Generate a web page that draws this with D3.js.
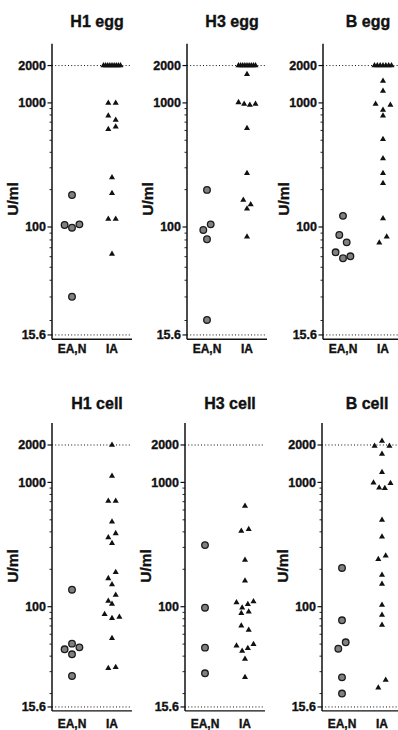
<!DOCTYPE html>
<html><head><meta charset="utf-8">
<script src="https://cdn.jsdelivr.net/npm/d3@7"></script>
<style>
body{margin:0;background:#fff}
svg{display:block}
text{font-family:"Liberation Sans",Arial,Helvetica,sans-serif;font-weight:bold;fill:#111;stroke:#111;stroke-width:0.35px}
</style>
</head><body>
<svg id="c" width="398" height="730"></svg>
<script>
// ---------- data ----------
const panelTitles = ["H1 egg", "H3 egg", "B egg", "H1 cell", "H3 cell", "B cell"];
const groups = ["EA,N", "IA"];
const yTickValues = [15.6, 100, 1000, 2000];
const yTickLabels = ["15.6", "100", "1000", "2000"];
const minorTickValues = [20, 30, 40, 50, 60, 70, 80, 90, 200, 300, 400, 500, 600, 700, 800, 900];
const refLineValues = [2000, 15.6];
const yLabel = "U/ml";

const h1EggEAN = [181, 103.8, 98.8, 105, 30.1];
const h1EggIA = [2000, 2000, 2000, 2000, 2000, 2000, 2000, 2000, 2000, 1000, 1000, 788, 728, 613, 643, 250, 187, 116, 116, 62.8];
const h3EggEAN = [199, 95, 105, 81, 20.2];
const h3EggIA = [2000, 2000, 2000, 2000, 2000, 2000, 2000, 2000, 2000, 1700, 1010, 980, 960, 980, 624, 271, 165, 152, 140, 84.6];
const bEggEAN = [123, 87.1, 76.8, 64.7, 58.4, 60.4];
const bEggIA = [2000, 2000, 2000, 2000, 2000, 2000, 2000, 1501, 1247, 980, 877, 962, 788, 509, 357, 271, 225, 117, 76.3, 84.6];
const h1CellEAN = [137, 45.4, 50.4, 47.1, 41.4, 27.7];
const h1CellIA = [2000, 1126, 708, 708, 483, 361, 389, 324, 169, 189, 151, 111, 124, 105, 86.9, 80.7, 82.6, 55.7, 31.9, 32.5];
const h3CellEAN = [313, 98.2, 46.8, 29.1];
const h3CellIA = [646, 406, 420, 238, 162, 108, 98, 104.5, 110, 88.5, 91, 70.3, 65, 48.6, 44, 46.3, 49.9, 37.9, 27.0];
const bCellEAN = [205, 77.7, 45.9, 51.7, 27.0, 20.0];
const bCellIA = [1963, 2154, 1963, 1693, 1206, 995, 906, 896, 984, 498, 366, 241, 257, 180, 152, 103, 85.8, 71.3, 22.3, 25.7];

const panelData = [
  [h1EggEAN, h1EggIA], [h3EggEAN, h3EggIA], [bEggEAN, bEggIA],
  [h1CellEAN, h1CellIA], [h3CellEAN, h3CellIA], [bCellEAN, bCellIA]
];

// ---------- layout ----------
const svg = d3.select("#c");
const axisX = [52, 187, 323, 52, 185, 322];
const panelW = 80;
const rows = [
  {y: d3.scaleLog().domain([14.5, 100, 3000]).range([339.2, 227, 43.7]), titleY: 27, labelY: 199, catY: 353},
  {y: d3.scaleLog().domain([14.5, 100, 3000]).range([710.9, 606.7, 423.1]), titleY: 409, labelY: 566, catY: 728}
];
const rowTol = 8, spacing = 7.4, maxSpread = 17;

function dodge(values, y) {
  const items = values.map((v, i) => ({v, i, y: y(v), dx: 0}));
  const sorted = items.slice().sort((a, b) => a.y - b.y || a.i - b.i);
  const rs = [];
  let cur = null;
  sorted.forEach(it => {
    if (!cur || it.y - cur[0].y > rowTol) { cur = [it]; rs.push(cur); }
    else cur.push(it);
  });
  rs.forEach(r => {
    r.sort((a, b) => a.i - b.i);
    const n = r.length;
    const sp = n > 1 ? Math.min(spacing, maxSpread / (n - 1)) : 0;
    r.forEach((it, k) => it.dx = (k - (n - 1) / 2) * sp);
  });
  return items;
}

panelData.forEach((pd, p) => {
  const row = rows[Math.floor(p / 3)];
  const y = row.y;
  const x0 = axisX[p];
  const x = d3.scalePoint().domain(groups).range([x0, x0 + panelW]).padding(0.5);
  const g = svg.append("g");
  const [yMin, yMax] = [y.domain()[0], y.domain()[y.domain().length - 1]];

  // reference dotted lines
  g.selectAll("line.ref").data(refLineValues).join("line")
    .attr("x1", x0).attr("x2", x0 + panelW)
    .attr("y1", d => y(d)).attr("y2", d => y(d))
    .attr("stroke", "#111").attr("stroke-width", 1)
    .attr("stroke-dasharray", "1,2.2");

  // axes
  g.append("line").attr("x1", x0).attr("x2", x0).attr("y1", y(yMin)).attr("y2", y(yMax))
    .attr("stroke", "#111").attr("stroke-width", 1.5);
  g.append("line").attr("x1", x0).attr("x2", x0 + panelW).attr("y1", y(yMin)).attr("y2", y(yMin))
    .attr("stroke", "#111").attr("stroke-width", 1.4);
  g.selectAll("line.minor").data(minorTickValues).join("line")
    .attr("x1", x0 - 2.5).attr("x2", x0).attr("y1", d => y(d)).attr("y2", d => y(d))
    .attr("stroke", "#111").attr("stroke-width", 0.9);
  g.selectAll("line.major").data(yTickValues).join("line")
    .attr("x1", x0 - 4.5).attr("x2", x0).attr("y1", d => y(d)).attr("y2", d => y(d))
    .attr("stroke", "#111").attr("stroke-width", 1.2);
  g.selectAll("text.tick").data(yTickValues).join("text")
    .attr("x", x0 - 6).attr("y", d => y(d)).attr("dy", "0.35em")
    .attr("text-anchor", "end").attr("font-size", 12.5)
    .text((d, i) => yTickLabels[i]);

  // category labels
  g.selectAll("text.cat").data(groups).join("text")
    .attr("x", d => x(d)).attr("y", row.catY)
    .attr("text-anchor", "middle").attr("font-size", 12)
    .text(d => d);

  // title
  g.append("text").attr("x", x0 + 45).attr("y", row.titleY)
    .attr("text-anchor", "middle").attr("font-size", 16).text(panelTitles[p]);

  // y label
  g.append("text").attr("transform", `translate(${x0 - 34},${row.labelY}) rotate(-90)`)
    .attr("text-anchor", "middle").attr("font-size", 15.5).text(yLabel);

  // points
  const ean = dodge(pd[0], y);
  g.selectAll("circle.pt").data(ean).join("circle")
    .attr("cx", d => x(groups[0]) + d.dx).attr("cy", d => d.y).attr("r", 3.3)
    .attr("fill", "#808080").attr("stroke", "#1a1a1a").attr("stroke-width", 1.3);
  const ia = dodge(pd[1], y);
  const tri = d3.symbol(d3.symbolTriangle).size(16);
  g.selectAll("path.pt").data(ia).join("path")
    .attr("transform", d => `translate(${x(groups[1]) + d.dx},${d.y})`)
    .attr("d", tri).attr("fill", "#111");
});
</script>
</body></html>
